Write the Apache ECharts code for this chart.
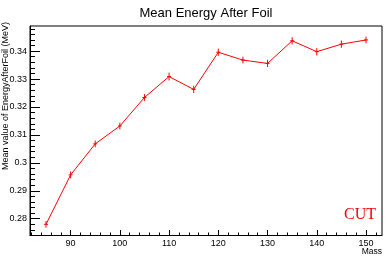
<!DOCTYPE html>
<html><head><meta charset="utf-8">
<script src="https://cdn.jsdelivr.net/npm/echarts@6/dist/echarts.min.js"></script>
<style>html,body{margin:0;padding:0;background:#fff}#c{width:386px;height:257px}</style>
</head><body><div id="c"></div>
<script>
const masses = [85, 90, 95, 100, 105, 110, 115, 120, 125, 130, 135, 140, 145, 150];
const meanEnergy = [0.2780, 0.2957, 0.3068, 0.3132, 0.3234, 0.3309, 0.3263, 0.3396, 0.3368, 0.3356, 0.3437, 0.3398, 0.3425, 0.3440];
const meanErrors = [0.0012, 0.0012, 0.0012, 0.0012, 0.0012, 0.0014, 0.0013, 0.0013, 0.0012, 0.0013, 0.0013, 0.0013, 0.0013, 0.0012];
const xMajorTicks = [90, 100, 110, 120, 130, 140, 150];
const xMinorTicks = [82, 84, 86, 88, 92, 94, 96, 98, 102, 104, 106, 108, 112, 114, 116, 118, 122, 124, 126, 128, 132, 134, 136, 138, 142, 144, 146, 148, 152];
const yMajorTicks = [0.28, 0.29, 0.30, 0.31, 0.32, 0.33, 0.34];
const yMinorTicks = [0.274, 0.276, 0.278, 0.282, 0.284, 0.286, 0.288, 0.292, 0.294, 0.296, 0.298, 0.302, 0.304, 0.306, 0.308, 0.312, 0.314, 0.316, 0.318, 0.322, 0.324, 0.326, 0.328, 0.332, 0.334, 0.336, 0.338, 0.342, 0.344, 0.346, 0.348];
const titleText = 'Mean Energy After Foil';
const xAxisTitle = 'Mass';
const yAxisTitle = 'Mean value of EnergyAfterFoil (MeV)';
const tagText = 'CUT';

const SANS = '"Liberation Sans", Arial, Helvetica, sans-serif';
const SERIF = '"Liberation Serif", "Times New Roman", serif';
const X_MIN = 81.75, X_MAX = 153.25, Y_MIN = 0.274, Y_MAX = 0.349;

const chart = echarts.init(document.getElementById('c'), null, {renderer: 'canvas'});

const lineData = masses.map((m, i) => [m, meanEnergy[i]]);
const errData = masses.map((m, i) => [m, meanEnergy[i], meanErrors[i]]);

function fmtY(v) { return String(+(+v).toFixed(3)); }

const option = {
  animation: false,
  backgroundColor: '#fff',
  grid: {left: 30, right: 4, top: 26, bottom: 21.5, show: true, borderColor: '#000', borderWidth: 1, backgroundColor: 'transparent'},
  xAxis: [
    {type: 'value', min: X_MIN, max: X_MAX, position: 'bottom',
     axisLine: {show: true, lineStyle: {color: '#000', width: 1}},
     axisTick: {show: true, inside: true, length: 5.5, customValues: xMajorTicks, lineStyle: {color: '#000'}},
     axisLabel: {show: true, customValues: xMajorTicks, margin: 4, fontSize: 9, color: '#000', fontFamily: SANS},
     splitLine: {show: false}},
    {type: 'value', min: X_MIN, max: X_MAX, position: 'bottom', offset: 0,
     axisLine: {show: false},
     axisTick: {show: true, inside: true, length: 3, customValues: xMinorTicks, lineStyle: {color: '#000'}},
     axisLabel: {show: false},
     splitLine: {show: false}}
  ],
  yAxis: [
    {type: 'value', min: Y_MIN, max: Y_MAX, position: 'left',
     axisLine: {show: true, lineStyle: {color: '#000', width: 1}},
     axisTick: {show: true, inside: true, length: 10, customValues: yMajorTicks, lineStyle: {color: '#000'}},
     axisLabel: {show: true, customValues: yMajorTicks, margin: 3, fontSize: 9, color: '#000', fontFamily: SANS, formatter: fmtY},
     splitLine: {show: false}},
    {type: 'value', min: Y_MIN, max: Y_MAX, position: 'left', offset: 0,
     axisLine: {show: false},
     axisTick: {show: true, inside: true, length: 5, customValues: yMinorTicks, lineStyle: {color: '#000'}},
     axisLabel: {show: false},
     splitLine: {show: false}}
  ],
  series: [
    {type: 'line', data: lineData, xAxisIndex: 0, yAxisIndex: 0, showSymbol: false, symbol: 'none',
     lineStyle: {color: '#ff0000', width: 1}, clip: false, silent: true},
    {type: 'custom', data: errData, xAxisIndex: 0, yAxisIndex: 0, silent: true, clip: false,
     renderItem: function (params, api) {
       const x = api.value(0), y = api.value(1), e = api.value(2);
       const p = api.coord([x, y]);
       const top = api.coord([x, y + e]);
       const bot = api.coord([x, y - e]);
       const style = {stroke: '#ff0000', lineWidth: 1};
       return {type: 'group', children: [
         {type: 'line', shape: {x1: p[0], y1: top[1], x2: p[0], y2: bot[1]}, style: style},
         {type: 'line', shape: {x1: p[0] - 2, y1: p[1], x2: p[0] + 2, y2: p[1]}, style: style}
       ]};
     }}
  ],
  graphic: [
    {type: 'text', x: 206, y: 13, style: {text: titleText, font: '13px ' + SANS, fill: '#000', align: 'center', verticalAlign: 'middle'}},
    {type: 'text', x: 382, y: 252, style: {text: xAxisTitle, font: '8.5px ' + SANS, fill: '#000', align: 'right', verticalAlign: 'middle'}},
    {type: 'text', x: 6, y: 22, rotation: Math.PI / 2, style: {text: yAxisTitle, font: '9px ' + SANS, fill: '#000', align: 'right', verticalAlign: 'middle'}},
    {type: 'text', x: 360, y: 214.5, style: {text: tagText, font: '16px ' + SERIF, fill: '#ff0000', align: 'center', verticalAlign: 'middle'}}
  ]
};
chart.setOption(option);
</script>
</body></html>
